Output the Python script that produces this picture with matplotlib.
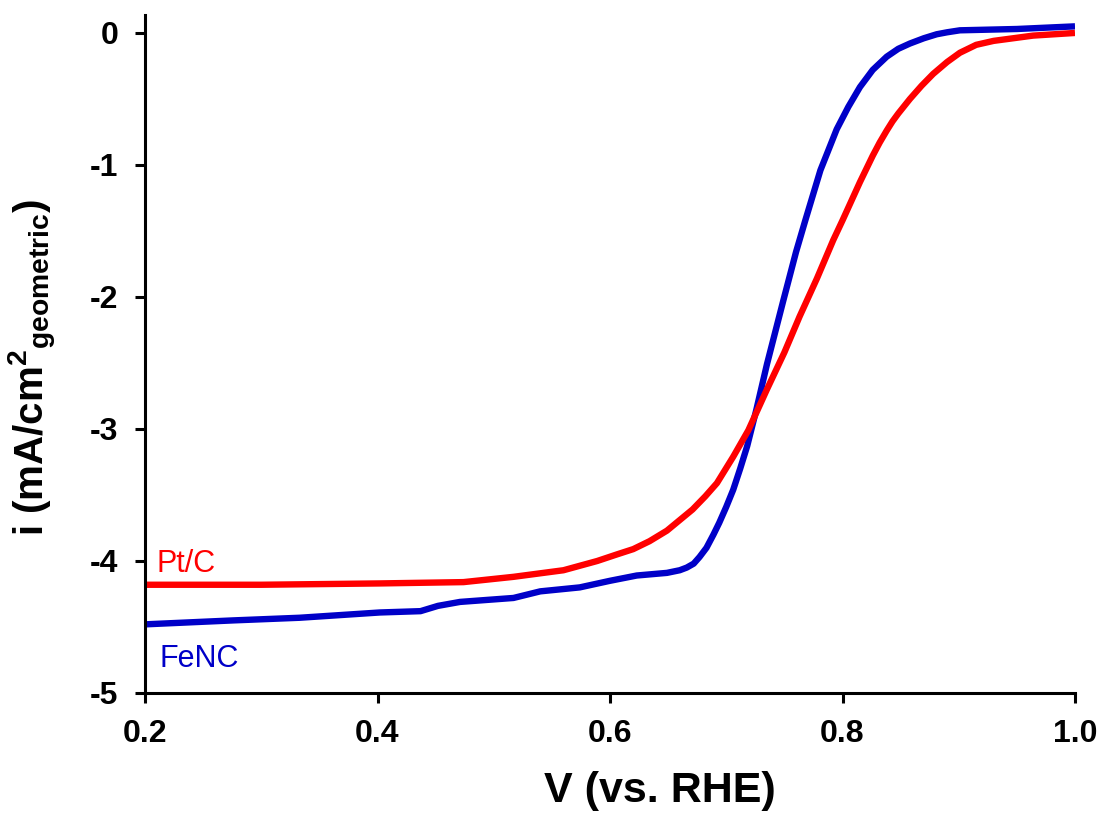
import matplotlib
matplotlib.use("Agg")
import matplotlib.pyplot as plt

# Pt/C polarization curve (V vs. RHE, mA/cm2)
ptc_v = [0.200, 0.300, 0.402, 0.474, 0.517, 0.560, 0.589, 0.606, 0.620, 0.634,
         0.649, 0.660, 0.671, 0.682, 0.692, 0.706, 0.719, 0.735, 0.750, 0.763,
         0.778, 0.792, 0.800, 0.815, 0.826, 0.832, 0.838, 0.843, 0.848, 0.858,
         0.868, 0.878, 0.890, 0.901, 0.915, 0.930, 0.964, 1.000]
ptc_i = [-4.18, -4.18, -4.17, -4.16, -4.12, -4.07, -4.00, -3.95, -3.91, -3.85,
         -3.77, -3.69, -3.61, -3.51, -3.41, -3.21, -3.01, -2.70, -2.42, -2.15,
         -1.86, -1.57, -1.42, -1.13, -0.93, -0.83, -0.74, -0.67, -0.61, -0.50,
         -0.40, -0.31, -0.22, -0.15, -0.09, -0.06, -0.02, 0.00]

# FeNC polarization curve
fenc_v = [0.200, 0.276, 0.333, 0.402, 0.437, 0.452, 0.471, 0.517, 0.540, 0.574,
          0.600, 0.623, 0.649, 0.660, 0.666, 0.672, 0.677, 0.683, 0.689, 0.694,
          0.700, 0.706, 0.712, 0.718, 0.726, 0.735, 0.749, 0.760, 0.768, 0.781,
          0.795, 0.805, 0.815, 0.826, 0.838, 0.848, 0.858, 0.870, 0.881, 0.890,
          0.901, 0.950, 1.000]
fenc_i = [-4.48, -4.45, -4.43, -4.39, -4.38, -4.34, -4.31, -4.28, -4.23, -4.20,
          -4.15, -4.11, -4.09, -4.07, -4.05, -4.02, -3.97, -3.90, -3.80, -3.71,
          -3.59, -3.46, -3.30, -3.13, -2.85, -2.51, -2.03, -1.66, -1.42, -1.04,
          -0.73, -0.56, -0.41, -0.28, -0.18, -0.12, -0.08, -0.04, -0.01, 0.005,
          0.02, 0.03, 0.05]

x_ticks = [0.2, 0.4, 0.6, 0.8, 1.0]
y_ticks = [0, -1, -2, -3, -4, -5]

plt.rcParams['font.family'] = ['Liberation Sans', 'DejaVu Sans']
plt.rcParams['mathtext.fontset'] = 'custom'
plt.rcParams['mathtext.bf'] = 'Liberation Sans:bold'
plt.rcParams['mathtext.rm'] = 'Liberation Sans:bold'

fig = plt.figure(figsize=(11.04, 8.19), dpi=100)
ax = fig.add_axes([145 / 1104, 1 - 693 / 819, 930 / 1104, 678 / 819])

ax.plot(fenc_v, fenc_i, color='#0000C8', lw=4.6, solid_capstyle='butt',
        solid_joinstyle='round')
ax.plot(ptc_v, ptc_i, color='#FF0000', lw=4.6, solid_capstyle='butt',
        solid_joinstyle='round')

ax.set_xlim(0.2, 1.0)
ax.set_ylim(-5, 0.136)
ax.set_xticks(x_ticks)
ax.set_xticklabels([f'{t:.1f}' for t in x_ticks])
ax.set_yticks(y_ticks)
ax.set_yticklabels([str(t) for t in y_ticks])

for side in ['top', 'right']:
    ax.spines[side].set_visible(False)
for side in ['left', 'bottom']:
    ax.spines[side].set_linewidth(2.2)

ax.tick_params(direction='out', length=7, width=2.2, pad=12,
               labelsize=23)
for lab in ax.get_xticklabels() + ax.get_yticklabels():
    lab.set_fontweight('bold')

ax.set_xlabel('V (vs. RHE)', fontsize=31, fontweight='bold')
ax.xaxis.set_label_coords(0.554, -0.115)
ax.set_ylabel(r'i (mA/cm$^{\mathbf{2}}$$_{\mathbf{geometric}}$)',
              fontsize=29, fontweight='bold')
ax.yaxis.set_label_coords(-0.092, 0.48)

ax.text(0.2103, -4.08, 'Pt/C', color='#FF0000', fontsize=22, va='baseline')
ax.text(0.2125, -4.80, 'FeNC', color='#0000C8', fontsize=22, va='baseline')

fig.savefig('out.png', dpi=100)
